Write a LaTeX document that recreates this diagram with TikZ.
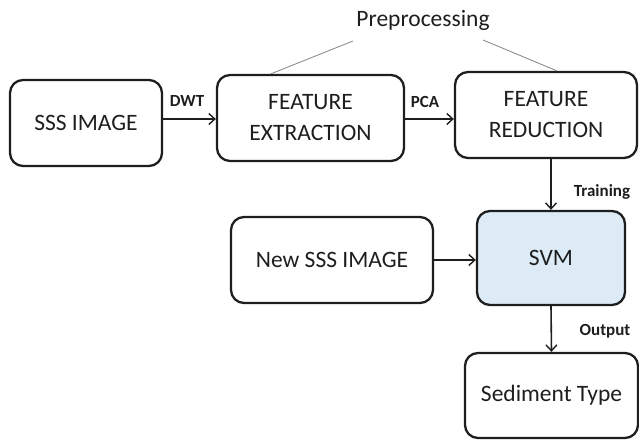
\documentclass[tikz,border=0pt]{standalone}
\usepackage{fontspec}
\setmainfont{Carlito}
\usetikzlibrary{arrows.meta,calc}
\definecolor{ink}{HTML}{1E1E1E}
\definecolor{svmfill}{HTML}{DDEBF6}
\begin{document}
\begin{tikzpicture}[x=1pt,y=-1pt,
  box/.style={draw=ink,line width=2.3pt,rounded corners=13pt,align=center,
    font=\fontsize{23.5}{27}\selectfont,text=ink,inner sep=0pt},
  lbl/.style={font=\bfseries\fontsize{17}{19}\selectfont,text=ink,inner sep=0pt},
  arr/.style={draw=ink,line width=1.6pt,-{Straight Barb[length=6pt,width=11pt,line width=1.4pt]}},
  thin/.style={draw=ink!55,line width=0.8pt}]
\useasboundingbox (0,0) rectangle (639,441);
\node[box,minimum width=152pt,minimum height=86pt] (sss) at (86,123) {SSS IMAGE};
\node[box,minimum width=187pt,minimum height=86pt] (fe) at (310.5,118) {FEATURE\\[4pt]EXTRACTION};
\node[box,minimum width=182pt,minimum height=86pt] (fr) at (546,115) {FEATURE\\[4pt]REDUCTION};
\node[box,fill=svmfill,minimum width=148pt,minimum height=94pt] (svm) at (551,258) {SVM};
\node[box,minimum width=202pt,minimum height=86pt] (new) at (332,260) {New SSS IMAGE};
\node[box,minimum width=173pt,minimum height=85pt] (sed) at (551.5,395.5) {Sediment Type};
\node[font=\fontsize{23.5}{27}\selectfont,text=ink,inner sep=0pt] (pre) at (423,20) {Preprocessing};
\coordinate (pl) at (353,41);
\coordinate (pr) at (483,40);
\draw[thin] (pl) -- ($(fe.north west)+(55,0)$);
\draw[thin] (pr) -- ($(fr.north west)+(103,0)$);
\draw[arr] ([yshift=4pt]sss.east) -- ([yshift=4pt]sss.east -| fe.west);
\draw[arr] ([yshift=-1pt]fe.east) -- ([yshift=-1pt]fe.east -| fr.west);
\draw[arr] (svm.north |- fr.south) -- (svm.north);
\draw[arr] (new.east) -- (new.east -| svm.west);
\draw[arr] (svm.south) -- (sed.north);
\node[lbl] (dwt) at (187,101) {DWT};
\node[lbl] (pca) at (425,102) {PCA};
\node[lbl] (trn) at (602,192) {Training};
\node[lbl] (out) at (605,331) {Output};
\end{tikzpicture}
\end{document}
